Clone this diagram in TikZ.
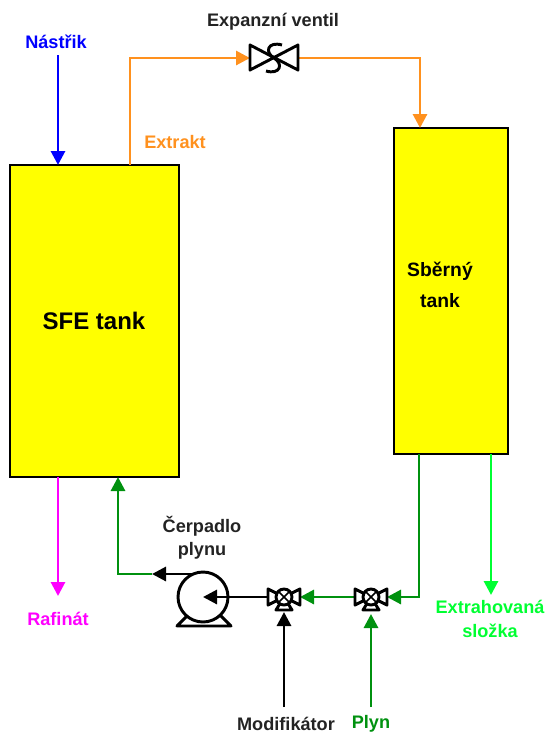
\documentclass[tikz,border=0pt]{standalone}
\usepackage{fontspec}
\setmainfont{Liberation Sans}
\usetikzlibrary{arrows.meta}
\definecolor{tankyellow}{RGB}{255,255,0}
\definecolor{extraktorange}{RGB}{255,145,30}
\definecolor{plyngreen}{RGB}{0,145,15}
\definecolor{slozkagreen}{RGB}{0,255,50}
\definecolor{rafinatpink}{RGB}{255,0,255}
\definecolor{nastrikblue}{RGB}{0,0,255}
\definecolor{labelgrey}{RGB}{35,35,35}
\tikzset{every picture/.style={line width=0.75pt}}
\tikzset{
	tank/.style={draw=black,line width=2pt,fill=tankyellow,inner sep=0pt,align=center,font=\bfseries},
	pipe/.style={line width=2.2pt,-{Triangle[length=10.5pt,width=10.5pt]}},
	label/.style={inner sep=0.75pt,align=center,font=\bfseries\fontsize{13.6}{17.5}\selectfont},
	symbol/.style={draw=black,line width=2.2pt,line join=round},
}
\begin{document}
\begin{tikzpicture}[x=0.75pt,y=0.75pt,yscale=-1,xscale=1]
	\useasboundingbox (0,0) rectangle (546,733);

	% Tanks
	\node (sfe) [tank,minimum width=126.75pt,minimum height=234pt] at (94.5,321) {};
	\node (sberny) [tank,minimum width=85.5pt,minimum height=244.5pt] at (451,291) {};

	% Tank labels
	\node (sfelabel) [inner sep=0.75pt,font=\bfseries\fontsize{18}{22}\selectfont] at (94,321) {SFE tank};
	\node (sbernylabel) [inner sep=0.75pt,align=center,font=\bfseries\fontsize{14.5}{23}\selectfont] at (440,285) {Sběrný\\tank};

	% Ports
	\coordinate (extrakttop) at (130,165);
	\coordinate (cornera) at (130,58);
	\coordinate (expansionin) at (250,58);
	\coordinate (expansionout) at (299,58);
	\coordinate (cornerb) at (420,58);
	\coordinate (sbernyin) at (420,128);
	\coordinate (nastrikstart) at (58,55);
	\coordinate (nastrikend) at (58,165);
	\coordinate (rafinatstart) at (58,477);
	\coordinate (rafinatend) at (58,596);
	\coordinate (returnend) at (118,477);
	\coordinate (cornerc) at (118,574);
	\coordinate (pumparrow) at (152,574);
	\coordinate (pumptop) at (205,574);
	\coordinate (pumpcentre) at (203,597);
	\coordinate (sbernygreen) at (419,454);
	\coordinate (cornerd) at (419,597);
	\coordinate (valvebin) at (387,597);
	\coordinate (valvebout) at (355,597);
	\coordinate (valveain) at (300,597);
	\coordinate (valveaout) at (268,597);
	\coordinate (slozkastart) at (491,454);
	\coordinate (slozkaend) at (491,595);
	\coordinate (modstart) at (284,707);
	\coordinate (modend) at (284,612);
	\coordinate (plynstart) at (371,707);
	\coordinate (plynend) at (371,614);

	% Pipes
	\draw [pipe,color=nastrikblue] (nastrikstart) -- (nastrikend);
	\draw [pipe,color=rafinatpink] (rafinatstart) -- (rafinatend);
	\draw [pipe,color=extraktorange] (extrakttop) -- (cornera) -- (expansionin);
	\draw [pipe,color=extraktorange] (expansionout) -- (cornerb) -- (sbernyin);
	\draw [pipe,color=slozkagreen] (slozkastart) -- (slozkaend);
	\draw [pipe,color=plyngreen] (sbernygreen) -- (cornerd) -- (valvebin);
	\draw [pipe,color=plyngreen] (valvebout) -- (valveain);
	\draw [pipe,color=plyngreen] (plynstart) -- (plynend);
	\draw [pipe,color=plyngreen] (pumparrow) -- (cornerc) -- (returnend);
	\draw [pipe,color=black] (pumptop) -- (pumparrow);
	\draw [pipe,color=black] (modstart) -- (modend);

	% Expanzni ventil
	\draw [symbol,fill=white] (250,45) -- (298,70) -- (298,45) -- (250,70) -- cycle;
	\draw [symbol] (282,45) .. controls (268,41) and (264,52) .. (274,58) .. controls (284,64) and (280,75) .. (266,71);

	% Valves
	\foreach \vx in {284,371} {
		\draw [symbol,fill=white] (\vx-16,589) -- (\vx,597) -- (\vx-16,605) -- cycle;
		\draw [symbol,fill=white] (\vx+16,589) -- (\vx,597) -- (\vx+16,605) -- cycle;
		\draw [symbol,fill=white] (\vx-8,610) -- (\vx+8,610) -- (\vx,597) -- cycle;
		\draw [symbol,fill=white] (\vx,597) circle [radius=8];
		\draw [symbol,line width=1.2pt] (\vx-6,591) -- (\vx+6,603) (\vx+6,591) -- (\vx-6,603);
	}

	% Pump
	\draw [symbol,fill=white] (177,626) -- (231,626) -- (219,614) -- (189,614) -- cycle;
	\draw [symbol,fill=white] (203,597) circle [radius=25];
	\draw [pipe,color=black] (valveaout) -- (pumpcentre);

	% Labels
	\node (nastrik) [label,color=nastrikblue] at (56,42) {Nástřik};
	\node (expanzni) [label,color=labelgrey] at (273,22) {Expanzní ventil};
	\node (extrakt) [label,color=extraktorange] at (175,142) {Extrakt};
	\node (rafinat) [label,color=rafinatpink] at (58,619) {Rafinát};
	\node (cerpadlo) [label,color=labelgrey] at (202,538) {Čerpadlo\\plynu};
	\node (slozka) [label,color=slozkagreen] at (490,619) {Extrahovaná\\složka};
	\node (modifikator) [label,color=labelgrey] at (286,724) {Modifikátor};
	\node (plyn) [label,color=plyngreen] at (371,724) {Plyn};
\end{tikzpicture}
\end{document}
